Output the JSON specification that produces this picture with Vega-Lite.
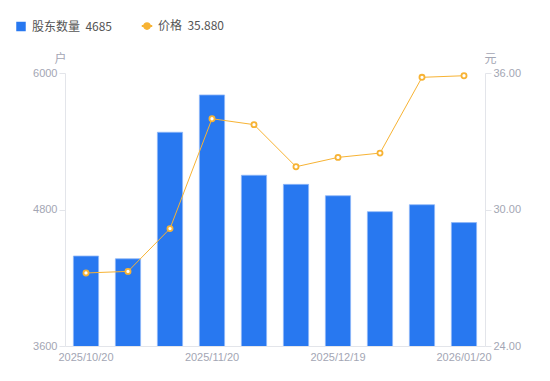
{
  "$schema": "https://vega.github.io/schema/vega-lite/v6.json",
  "width": 420,
  "height": 273,
  "autosize": {"type": "none"},
  "padding": {"left": 65, "top": 73, "right": 65, "bottom": 35},
  "background": "white",
  "config": {
    "view": {"stroke": null},
    "font": "Liberation Sans, Noto Sans CJK SC, sans-serif",
    "axis": {"labelFont": "Liberation Sans", "titleFont": "Noto Sans CJK SC"}
  },
  "data": {
    "values": [
      {"date": "2025/10/20", "holders": 4391, "price": 27.21},
      {"date": "2025/10/31", "holders": 4367, "price": 27.28},
      {"date": "2025/11/10", "holders": 5479, "price": 29.16},
      {"date": "2025/11/20", "holders": 5807, "price": 33.99},
      {"date": "2025/11/28", "holders": 5101, "price": 33.73},
      {"date": "2025/12/10", "holders": 5021, "price": 31.88},
      {"date": "2025/12/19", "holders": 4921, "price": 32.29},
      {"date": "2025/12/31", "holders": 4781, "price": 32.48},
      {"date": "2026/01/09", "holders": 4842, "price": 35.81},
      {"date": "2026/01/20", "holders": 4685, "price": 35.88}
    ]
  },
  "encoding": {
    "x": {
      "field": "date",
      "type": "ordinal",
      "sort": null,
      "scale": {"paddingInner": 0.4, "paddingOuter": 0.2},
      "axis": {
        "title": null,
        "values": ["2025/10/20", "2025/11/20", "2025/12/19", "2026/01/20"],
        "labelAngle": 0,
        "labelColor": "#a3a6b4",
        "labelFontSize": 11,
        "labelPadding": 5,
        "ticks": false,
        "domainColor": "#e3e5ea",
        "labelFlush": false
      }
    }
  },
  "layer": [
    {
      "mark": {"type": "bar", "stroke": "#8fb8f7", "strokeWidth": 0.8, "clip": true},
      "encoding": {
        "y": {
          "field": "holders",
          "type": "quantitative",
          "scale": {"domain": [3600, 6000], "zero": false, "nice": false},
          "axis": {
            "title": "户",
            "titleAngle": 0,
            "titleAnchor": "end",
            "titleAlign": "center",
            "titleBaseline": "bottom",
            "titleX": -5,
            "titleY": -8,
            "titleColor": "#a3a6b4",
            "titleFontSize": 12,
            "titleFontWeight": "normal",
            "values": [3600, 4800, 6000],
            "format": "d",
            "grid": false,
            "labelColor": "#a3a6b4",
            "labelFontSize": 11,
            "labelPadding": 2,
            "tickSize": 6,
            "tickColor": "#e3e5ea",
            "domainColor": "#e3e5ea"
          }
        },
        "color": {
          "datum": "股东数量",
          "type": "nominal",
          "scale": {"domain": ["股东数量", "价格"], "range": ["#2878f0", "#f7b334"]},
          "legend": {
            "title": null,
            "orient": "none",
            "direction": "horizontal",
            "legendX": -50,
            "legendY": -53,
            "labelFont": "Noto Sans CJK SC",
            "labelFontSize": 12,
            "labelColor": "#555",
            "columnPadding": 24,
            "labelOffset": 5,
            "labelExpr": "datum.label === '股东数量' ? '股东数量\u00a0\u00a04685' : '价格\u00a0\u00a035.880'",
            "encode": {
              "symbols": {
                "update": {
                  "shape": {"signal": "datum.value === '价格' ? 'M-1,0L-0.55,0M0.55,0L1,0M-0.55,0A0.55,0.55,0,1,1,0.55,0A0.55,0.55,0,1,1,-0.55,0Z' : 'square'"},
                  "size": {"signal": "datum.value === '价格' ? 110 : 90"},
                  "fill": {"signal": "datum.value === '价格' ? 'white' : '#2878f0'"},
                  "stroke": {"signal": "datum.value === '价格' ? '#f7b334' : '#2878f0'"},
                  "strokeWidth": {"signal": "datum.value === '价格' ? 2 : 0"},
                  "opacity": {"value": 1}
                }
              }
            }
          }
        }
      }
    },
    {
      "mark": {
        "type": "line",
        "strokeWidth": 1,
        "point": {"shape": "circle", "filled": false, "fill": "white", "fillOpacity": 1, "size": 26, "strokeWidth": 1.8, "opacity": 1}
      },
      "encoding": {
        "y": {
          "field": "price",
          "type": "quantitative",
          "scale": {"domain": [24, 36], "zero": false, "nice": false},
          "axis": {
            "orient": "right",
            "title": "元",
            "titleAngle": 0,
            "titleAnchor": "end",
            "titleAlign": "center",
            "titleBaseline": "bottom",
            "titleX": 5,
            "titleY": -8,
            "titleColor": "#a3a6b4",
            "titleFontSize": 12,
            "titleFontWeight": "normal",
            "values": [24, 30, 36],
            "format": ".2f",
            "grid": false,
            "labelColor": "#a3a6b4",
            "labelFontSize": 11,
            "labelPadding": 2,
            "tickSize": 6,
            "tickColor": "#e3e5ea",
            "domainColor": "#e3e5ea"
          }
        },
        "color": {
          "datum": "价格",
          "type": "nominal",
          "legend": {
            "title": null,
            "orient": "none",
            "direction": "horizontal",
            "legendX": -50,
            "legendY": -53,
            "labelFont": "Noto Sans CJK SC",
            "labelFontSize": 12,
            "labelColor": "#555",
            "columnPadding": 24,
            "labelOffset": 5,
            "labelExpr": "datum.label === '股东数量' ? '股东数量\u00a0\u00a04685' : '价格\u00a0\u00a035.880'",
            "encode": {
              "symbols": {
                "update": {
                  "shape": {"signal": "datum.value === '价格' ? 'M-1,0L-0.55,0M0.55,0L1,0M-0.55,0A0.55,0.55,0,1,1,0.55,0A0.55,0.55,0,1,1,-0.55,0Z' : 'square'"},
                  "size": {"signal": "datum.value === '价格' ? 110 : 90"},
                  "fill": {"signal": "datum.value === '价格' ? 'white' : '#2878f0'"},
                  "stroke": {"signal": "datum.value === '价格' ? '#f7b334' : '#2878f0'"},
                  "strokeWidth": {"signal": "datum.value === '价格' ? 2 : 0"},
                  "opacity": {"value": 1}
                }
              }
            }
          }
        }
      }
    }
  ],
  "resolve": {"scale": {"y": "independent"}}
}
